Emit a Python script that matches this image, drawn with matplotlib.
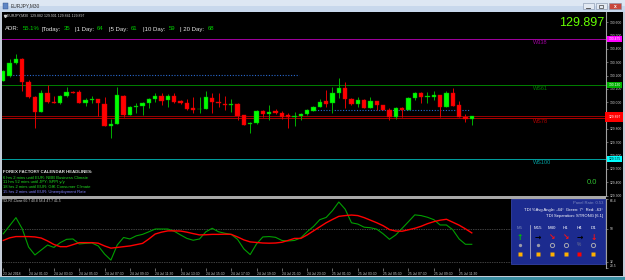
"""MT4-style EURJPY M30 chart with TDI sub-window, redrawn with matplotlib."""
import matplotlib
matplotlib.use("Agg")
import matplotlib.pyplot as plt
import numpy as np
from matplotlib.patches import Rectangle

plt.rcParams["font.family"] = ["Liberation Sans", "DejaVu Sans"]

W, H = 625, 280

# --- values ---
opens = [130.162, 130.197, 130.295, 130.325, 130.152, 130.040, 129.927, 130.070, 130.002, 129.995,
         130.047, 130.077, 130.077, 129.995, 130.020, 130.025, 129.987, 129.822, 129.837, 130.047,
         129.905, 129.968, 129.972, 129.995, 130.025, 130.047, 130.017, 130.047, 130.010, 129.995,
         129.957, 129.946, 129.950, 130.032, 130.002, 129.987, 129.983, 129.987, 129.905, 129.837,
         129.845, 129.935, 129.912, 129.935, 129.920, 129.905, 129.893, 129.897, 129.912, 129.935,
         129.965, 130.010, 129.995, 130.070, 130.107, 130.025, 129.987, 130.017, 129.960, 130.010,
         129.980, 129.942, 129.890, 129.957, 129.942, 130.032, 130.070, 130.043, 130.040, 130.055,
         129.965, 130.070, 129.980, 129.890, 129.875]
highs = [130.242, 130.325, 130.362, 130.332, 130.167, 130.047, 130.092, 130.130, 130.047, 130.055,
         130.115, 130.085, 130.092, 130.032, 130.047, 130.027, 130.040, 129.875, 130.115, 130.055,
         129.972, 129.995, 130.002, 130.032, 130.070, 130.070, 130.062, 130.070, 130.017, 130.025,
         130.040, 130.040, 130.085, 130.070, 130.070, 130.047, 130.025, 129.995, 129.907, 129.852,
         129.942, 129.942, 129.980, 129.950, 129.935, 129.920, 129.927, 129.920, 129.950, 129.972,
         130.025, 130.092, 130.115, 130.182, 130.152, 130.032, 130.040, 130.025, 130.040, 130.012,
         129.982, 129.957, 129.965, 129.965, 130.040, 130.077, 130.077, 130.077, 130.085, 130.057,
         130.085, 130.107, 130.010, 129.912, 129.897]
lows = [130.160, 130.192, 130.287, 130.085, 130.032, 129.807, 129.925, 129.998, 129.992, 129.987,
        130.040, 130.070, 129.992, 129.972, 129.995, 129.897, 129.820, 129.732, 129.835, 129.890,
        129.902, 129.920, 129.905, 129.957, 130.002, 129.980, 129.965, 129.995, 129.987, 129.942,
        129.920, 129.920, 129.948, 129.920, 129.965, 129.942, 129.927, 129.867, 129.827, 129.770,
        129.837, 129.890, 129.867, 129.912, 129.875, 129.807, 129.822, 129.867, 129.905, 129.933,
        129.963, 129.965, 129.920, 130.032, 129.957, 129.980, 129.965, 129.957, 129.957, 129.942,
        129.940, 129.867, 129.875, 129.890, 129.940, 130.017, 129.995, 129.995, 130.017, 129.890,
        129.963, 129.970, 129.887, 129.852, 129.830]
closes = [130.235, 130.295, 130.325, 130.152, 130.040, 129.927, 130.070, 130.002, 129.996, 130.047,
          130.077, 130.073, 129.995, 130.017, 130.025, 129.995, 129.822, 129.837, 130.055, 129.905,
          129.965, 129.972, 129.995, 130.025, 130.047, 130.010, 130.047, 130.002, 129.995, 129.950,
          129.942, 129.950, 130.040, 130.002, 129.995, 129.980, 129.987, 129.897, 129.830, 129.845,
          129.935, 129.912, 129.927, 129.920, 129.890, 129.890, 129.897, 129.912, 129.942, 129.965,
          130.002, 129.987, 130.070, 130.107, 130.025, 129.987, 130.017, 129.960, 130.010, 129.980,
          129.942, 129.890, 129.957, 129.942, 130.032, 130.070, 130.040, 130.047, 130.055, 129.965,
          130.070, 129.972, 129.890, 129.875, 129.897]

tdi_green = [47.2, 51.6, 56.0, 49.9, 40.0, 35.7, 38.4, 41.1, 39.8, 42.4,
             44.2, 44.4, 41.7, 42.0, 42.2, 40.6, 36.2, 32.9, 41.1, 45.2,
             44.4, 46.1, 46.9, 48.3, 49.8, 49.8, 49.8, 48.6, 46.6, 44.7,
             43.7, 44.4, 48.3, 50.2, 48.3, 47.5, 46.9, 44.2, 39.0, 35.9,
             41.7, 45.5, 45.7, 45.3, 43.6, 43.3, 43.6, 45.0, 48.3, 51.2,
             54.9, 56.1, 59.8, 64.5, 60.6, 53.2, 52.5, 50.8, 50.5, 49.7,
             47.2, 44.2, 46.6, 50.2, 53.8, 57.5, 57.1, 56.2, 54.9, 52.0,
             52.0, 49.4, 44.4, 41.5, 41.5]
tdi_red = [43.6, 45.0, 45.7, 45.7, 45.7, 45.5, 44.9, 43.3, 41.4, 40.2,
           40.2, 41.3, 42.4, 42.4, 42.4, 42.1, 40.6, 39.4, 39.8, 40.2,
           40.6, 41.3, 42.0, 44.4, 47.1, 48.1, 48.8, 48.8, 48.7, 48.1,
           47.3, 46.6, 46.7, 46.9, 46.9, 47.0, 46.9, 45.5, 43.9, 42.8,
           42.5, 42.2, 42.1, 42.2, 42.6, 43.6, 44.7, 44.7, 46.6, 48.8,
           51.0, 53.2, 55.0, 56.7, 57.1, 57.4, 57.1, 56.0, 54.6, 53.2,
           51.6, 49.5, 48.7, 48.6, 49.4, 50.2, 51.3, 52.7, 53.8, 54.6,
           55.1, 53.5, 51.9, 49.9, 47.7]

level_names = ["W338", "WS61", "WS78", "WS100"]
level_prices = [130.475, 130.130, 129.884, 129.575]
level_colors = ["#a000a0", "#008000", "#b00000", "#00a0a0"]
bid = 129.900

# price tags on the right scale (the WS78 tag sits under the bid tag)
tag_prices = [130.475, 130.130, 129.575, 129.897]
tag_colors = ["#ff00ff", "#00b000", "#00ffff", "#ff0000"]

# dotted range lines: (price, first bar, last bar)
range_prices = [130.2045, 129.940]
range_start = [1.1, 48.7]
range_end = [46.7, 73.7]

price_ticks = [130.6, 130.5, 130.4, 130.3, 130.2, 130.1, 130.0, 129.9, 129.8, 129.7, 129.6, 129.5, 129.4, 129.3]
tdi_ticks = [66.4, 50, 32, 28.5]

time_bars = [0, 4, 8, 12, 16, 20, 24, 28, 32, 36, 40, 44, 48, 52, 56, 60, 64, 68, 72]
time_labels = ["23 Jul 2018", "24 Jul 01:30", "24 Jul 03:30", "24 Jul 05:30", "24 Jul 07:30",
               "24 Jul 09:30", "24 Jul 11:30", "24 Jul 13:30", "24 Jul 15:30", "24 Jul 17:30",
               "24 Jul 19:30", "24 Jul 21:30", "24 Jul 23:30", "25 Jul 01:30", "25 Jul 03:30",
               "25 Jul 05:30", "25 Jul 07:30", "25 Jul 09:30", "25 Jul 11:30"]

adr_labels = ["ADR:", "|Today:", "|1 Day:", "|5 Day:", "|10 Day:", "| 20 Day:"]
adr_values = ["55.1%", "35", "64", "61", "59", "68"]

news = [("6 hrs 2 mins until EUR: NBB Business Climate", "#20e020"),
        ("11 hrs 52 mins until JPY: SPPI y/y", "#20e020"),
        ("18 hrs 2 mins until EUR: GfK Consumer Climate", "#20e020"),
        ("15 hrs 2 mins until EUR: Unemployment Rate", "#8080ff")]

panel_tfs = ["M5", "M15", "M30", "H1", "H4", "D1"]
panel_arrows = ["↑", "→", "↘", "↘", "→", "↓"]
panel_arrow_colors = ["#00c000", "#000000", "#ff1010", "#ff1010", "#000000", "#ff1010"]
panel_dots = ["dot", "dot", "ring", "ring", "pct", "ring"]
panel_squares = ["#ffb000", "#ffb000", "#ffb000", "#ffb000", "#ff0000", "#ffb000"]


def box(x0, y0, x1, y1):
    return [x0 / W, 1 - y1 / H, (x1 - x0) / W, (y1 - y0) / H]


fig = plt.figure(figsize=(W / 100, H / 100), dpi=100, facecolor="black")

# ---------------- main price window ----------------
ax = fig.add_axes(box(2, 12, 606, 196), facecolor="black")
o, h, l, c = (np.array(v) for v in (opens, highs, lows, closes))
idx = np.arange(len(o))
up = c >= o
body_lo = np.minimum(o, c)
body_h = np.maximum(np.abs(c - o), 0.003)

for p, col in zip(level_prices, level_colors):
    ax.axhline(p, color=col, lw=0.7, zorder=1)
ax.axhline(bid, color="#b00000", lw=0.6, zorder=1)
for p, a, b in zip(range_prices, range_start, range_end):
    ax.hlines(p, a, b, color="#2a6ad0", lw=0.8, linestyles=(0, (1, 1.5)), zorder=1)

ax.vlines(idx[up], l[up], h[up], color="#00b000", lw=0.7, zorder=2)
ax.vlines(idx[~up], l[~up], h[~up], color="#e00000", lw=0.7, zorder=2)
ax.bar(idx[up], body_h[up], bottom=body_lo[up], width=0.7, color="#00ff00",
       edgecolor="#00a000", lw=0.3, zorder=3)
ax.bar(idx[~up], body_h[~up], bottom=body_lo[~up], width=0.7, color="#ff0000",
       edgecolor="#d00000", lw=0.3, zorder=3)

ax.set_xlim(-0.2, 95.2)
ax.set_ylim(129.297, 130.677)
ax.set_xticks([])
ax.yaxis.tick_right()
ax.set_yticks(price_ticks)
ax.set_yticklabels([f"{p:.3f}" for p in price_ticks])
ax.tick_params(axis="y", colors="#909090", labelcolor="#d0d0d0", labelsize=2.4,
               length=1.5, width=0.5, pad=1)
for side in ("left", "top", "bottom"):
    ax.spines[side].set_visible(False)
ax.spines["right"].set_color("#a0a0a0")
ax.spines["right"].set_linewidth(0.8)

ytr = ax.get_yaxis_transform()
for name, p, col in zip(level_names, level_prices, level_colors):
    ax.text(0.879, p - 0.006, name, transform=ytr, color=col, fontsize=4,
            va="top", ha="left")

for p, fc in zip(tag_prices, tag_colors):
    tc = "black" if fc == "#00ffff" else "white"
    pad = "square,pad=0.35" if fc != "#ff0000" else "square,pad=0.9"
    ax.text(1.004, p - (0.008 if fc == "#ff0000" else 0), f"{p:.3f}", transform=ytr,
            fontsize=2.4, color=tc, va="center", ha="left", clip_on=False,
            bbox=dict(boxstyle=pad, fc=fc, ec="none"))

# ---------------- TDI window ----------------
ax2 = fig.add_axes(box(2, 198.5, 606, 268.2), facecolor="black")
ax2.axhline(50, color="#808080", lw=0.5, ls=(0, (1, 1.5)))
ax2.axhline(32, color="#808080", lw=0.5, ls=(0, (1, 1.5)))
ax2.plot(idx, tdi_green, color="#00a000", lw=0.8)
ax2.plot(idx, tdi_red, color="#ff0000", lw=1.0)
ax2.set_xlim(-0.2, 95.2)
ax2.set_ylim(28.5, 66.4)
ax2.yaxis.tick_right()
ax2.set_yticks(tdi_ticks)
ax2.set_yticklabels([f"{v:g}" for v in tdi_ticks])
ax2.tick_params(axis="y", colors="#909090", labelcolor="#d0d0d0", labelsize=2.4,
                length=1.5, width=0.5, pad=1)
ylabels = ax2.get_yticklabels()
ylabels[0].set_va("top")
ylabels[-1].set_va("bottom")
ax2.set_xticks(time_bars)
ax2.set_xticklabels(time_labels)
ax2.tick_params(axis="x", colors="#909090", labelcolor="#d0d0d0", labelsize=2.4,
                length=2, width=0.5, pad=1)
for t in ax2.get_xticklabels():
    t.set_ha("left")
for side in ("left", "top", "bottom"):
    ax2.spines[side].set_visible(False)
ax2.spines["right"].set_color("#a0a0a0")
ax2.spines["right"].set_linewidth(0.8)

# ---------------- window chrome, labels and panel (pixel coords) ----------------
ov = fig.add_axes([0, 0, 1, 1], zorder=5)
ov.set_xlim(0, W)
ov.set_ylim(H, 0)
ov.axis("off")

ov.add_patch(Rectangle((0, 0), W, 6, fc="#dde7f3", ec="none"))
ov.add_patch(Rectangle((0, 6), W, 6, fc="#c8d8ec", ec="none"))
ov.add_patch(Rectangle((2.5, 3), 5.5, 5.5, fc="#5f86c4", ec="#2f4f88", lw=0.3))
ov.text(10.5, 6.2, "EURJPY,M30", fontsize=3.5, color="#303030", va="center")
for x0, fc in ((583, "#e2e9f2"), (596, "#e2e9f2"), (609, "#c8473c")):
    ov.add_patch(Rectangle((x0, 3.3), 12 if x0 == 609 else 10.5, 6, fc=fc, ec="#7f8fa8", lw=0.4))
ov.plot([586, 590], [7.5, 7.5], color="#404040", lw=0.6)
ov.add_patch(Rectangle((599, 4.8), 4, 3, fc="none", ec="#404040", lw=0.5))
ov.text(615, 6.3, "x", fontsize=3.5, color="white", ha="center", va="center", weight="bold")

ov.add_patch(Rectangle((0, 12), 2, 266, fc="#c4ccd8", ec="none"))
ov.add_patch(Rectangle((622.5, 12), 2.5, 266, fc="#c4ccd8", ec="none"))
ov.add_patch(Rectangle((2, 196), 604, 2.5, fc="#a8a8a8", ec="none"))
ov.add_patch(Rectangle((0, 275.5), W, 1.8, fc="#c4ccd8", ec="none"))
ov.add_patch(Rectangle((0, 277.3), W, 2.7, fc="#3a8ea2", ec="none"))

ov.plot([4.5], [15.8], marker="v", ms=1.6, color="#d0d0d0")
ov.text(7, 15.8, "EURJPY,M30  129.882 129.901 129.841 129.897", fontsize=2.5,
        color="#d0d0d0", va="center")

adr_x = [5, 42, 75, 109, 142.7, 180]
val_x = [22.7, 63.7, 97, 131, 169, 208]
for lx, vx, lab, val in zip(adr_x, val_x, adr_labels, adr_values):
    ov.text(lx, 29, lab, fontsize=4.3, color="#e8e8e8", va="center")
    ov.text(vx, 29, val, fontsize=4.3, color="#00d000", va="center")

ov.text(604, 22.5, "129.897", fontsize=9, color="#66ff00", ha="right", va="center")
ov.text(597, 182, "0.0", fontsize=5.5, color="#30c030", ha="right", va="center")

ov.text(3, 171.7, "FOREX FACTORY CALENDAR HEADLINES:", fontsize=3.2, color="#e0e0e0",
        va="center", weight="bold")
for k, (txt, col) in enumerate(news):
    ov.text(3, 177.7 + k * 4.8, txt, fontsize=3.0, color=col, va="center")

ov.text(2, 200.5, "TDI-RT-Clone 60.7 40.8 58.4 47.7 41.5", fontsize=2.4, color="#d0d0d0",
        va="center")

# TDI summary panel
ov.add_patch(Rectangle((510.7, 198.5), 94.3, 65, fc="#1c2b8f", ec="#3a4ab8", lw=0.5))
ov.text(603, 203.3, "Panel Rate: 0.53", fontsize=3.0, color="#7d89c0", ha="right", va="center")
ov.text(603, 210, "TDI %Avg Angle: -44°  Green: 7°  Red: -63°", fontsize=3.0, color="white",
        ha="right", va="center")
ov.text(603, 216, "TDI Separation: STRONG [6.1]", fontsize=3.0, color="white",
        ha="right", va="center")
ov.plot([530, 530], [225, 258], color="#c0c0d0", lw=0.5)
tf_x = [520, 537.7, 551.7, 565.7, 579.3, 593.3]
for k, (x, tf) in enumerate(zip(tf_x, panel_tfs)):
    ov.text(x, 228.3, tf, fontsize=3.2, color="#8090b8" if k == 0 else "white",
            ha="center", va="center")
    ov.text(x, 237, panel_arrows[k], fontsize=5.5, color=panel_arrow_colors[k],
            ha="center", va="center", weight="bold", family=["DejaVu Sans"])
    kind = panel_dots[k]
    if kind == "dot":
        ov.plot([x], [245], marker="o", ms=2.4, color="#9a9aa8", mec="none")
    elif kind == "ring":
        ov.plot([x], [245], marker="o", ms=3.0, mfc="none", mec="#a8a8b0", mew=0.7)
    else:
        ov.text(x, 245, "%", fontsize=3.5, color="#6f7390", ha="center", va="center")
    ov.plot([x], [254.3], marker="s", ms=2.8, color=panel_squares[k], mec="none")

fig.savefig("out.png", dpi=100, facecolor="black")
